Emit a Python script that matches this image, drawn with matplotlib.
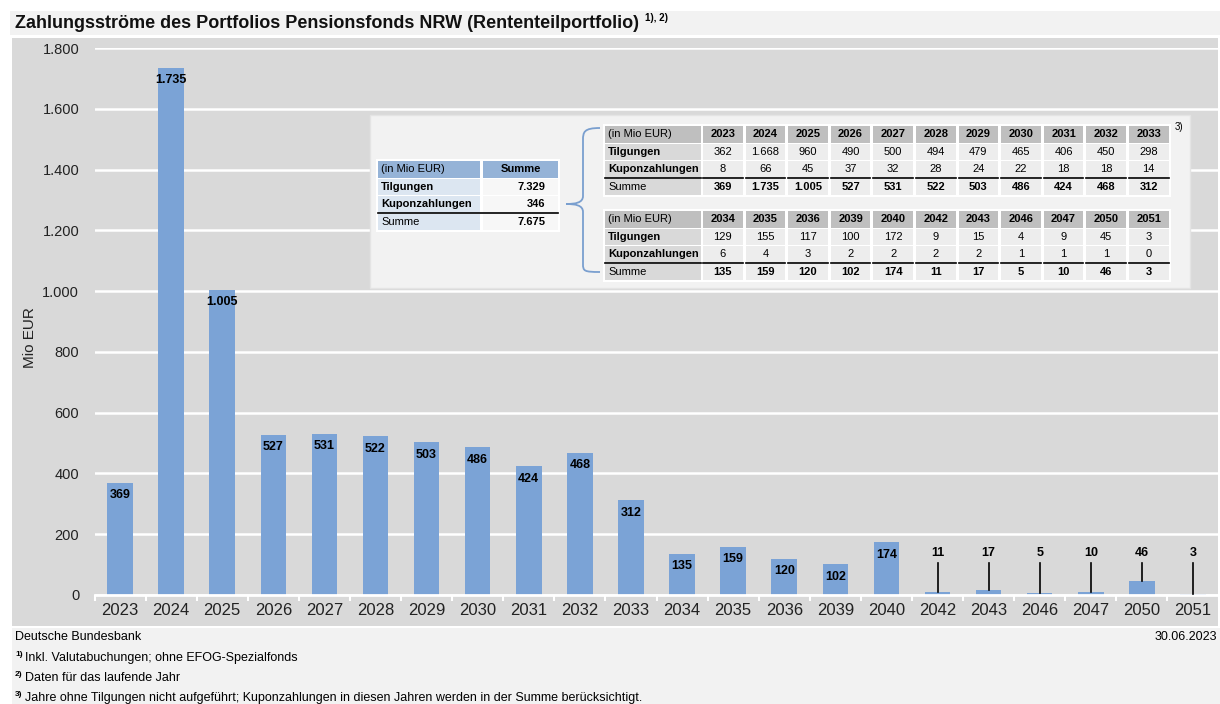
import matplotlib.pyplot as plt
from matplotlib.patches import Rectangle
from matplotlib.path import Path
from matplotlib.patches import PathPatch

plt.rcParams['font.family'] = ['Liberation Sans', 'DejaVu Sans']

# Daten (in Mio EUR)
years = ['2023', '2024', '2025', '2026', '2027', '2028', '2029', '2030', '2031', '2032', '2033',
         '2034', '2035', '2036', '2039', '2040', '2042', '2043', '2046', '2047', '2050', '2051']
tilgungen = [362, 1668, 960, 490, 500, 494, 479, 465, 406, 450, 298,
             129, 155, 117, 100, 172, 9, 15, 4, 9, 45, 3]
kupon = [8, 66, 45, 37, 32, 28, 24, 22, 18, 18, 14,
         6, 4, 3, 2, 2, 2, 2, 1, 1, 1, 0]
summe = [369, 1735, 1005, 527, 531, 522, 503, 486, 424, 468, 312,
         135, 159, 120, 102, 174, 11, 17, 5, 10, 46, 3]
total_tilgungen = 7329
total_kupon = 346
total_summe = 7675
yticks = [0, 200, 400, 600, 800, 1000, 1200, 1400, 1600, 1800]

BAR = '#7ba3d6'
GRAY = '#d9d9d9'
LIGHT = '#f2f2f2'


def de(v):
    return f"{v:,}".replace(",", ".")


W, H = 1220, 704
fig = plt.figure(figsize=(W / 100, H / 100), dpi=100)
fig.patch.set_facecolor('white')

# Hintergrund (Pixelkoordinaten)
bg = fig.add_axes([0, 0, 1, 1])
bg.set_xlim(0, W)
bg.set_ylim(H, 0)
bg.axis('off')
bg.set_zorder(0)
bg.add_patch(Rectangle((10, 11), 1210, 24, color=LIGHT, lw=0))
bg.add_patch(Rectangle((12, 38), 1206, 588, color=GRAY, lw=0))
bg.add_patch(Rectangle((12, 628), 1208, 76, color=LIGHT, lw=0))

# Hauptdiagramm
ax = fig.add_axes([94.5 / W, (H - 595) / H, 1124 / W, 547 / H])
ax.set_zorder(1)
ax.set_facecolor('none')
x = list(range(len(years)))
ax.bar(x, summe, width=0.5, color=BAR, zorder=2)
ax.set_xlim(-0.5, len(years) - 0.5)
ax.set_ylim(0, 1800)
ax.set_yticks(yticks)
ax.set_yticklabels([de(v) for v in yticks], fontsize=10.5, color='#222222')
ax.set_xticks(x)
ax.set_xticklabels(years, fontsize=12, color='#222222')
ax.set_xticks([i - 0.5 for i in range(len(years) + 1)], minor=True)
ax.tick_params(axis='y', length=0, pad=11)
ax.tick_params(axis='x', which='major', length=0, pad=6)
ax.tick_params(axis='x', which='minor', length=4, width=1.5, color='white')
ax.yaxis.grid(True, color='white', lw=1.8, zorder=1)
ax.set_axisbelow(True)
for s in ['top', 'right', 'left']:
    ax.spines[s].set_visible(False)
ax.spines['bottom'].set_color('white')
ax.spines['bottom'].set_linewidth(2)
ax.set_ylabel('Mio EUR', fontsize=11, color='#222222')
ax.yaxis.set_label_coords((37 - 94.5) / 1124, 0.47)

LABEL_Y = 138
for i, v in enumerate(summe):
    if v >= 100:
        ax.annotate(de(v), xy=(i, v), xytext=(0, -9), textcoords='offset points',
                    ha='center', va='center', fontsize=9, fontweight='bold', zorder=3)
    else:
        ax.text(i, LABEL_Y, de(v), ha='center', va='center', fontsize=9,
                fontweight='bold', zorder=3)
        ax.plot([i, i], [v, 105], color='black', lw=1.2, zorder=3)

# Overlay fuer Texte und Tabellen
ov = fig.add_axes([0, 0, 1, 1])
ov.set_xlim(0, W)
ov.set_ylim(H, 0)
ov.axis('off')
ov.set_zorder(3)
ov.patch.set_alpha(0)

title = ov.text(15, 23, 'Zahlungsströme des Portfolios Pensionsfonds NRW (Rententeilportfolio)',
                fontsize=13, fontweight='bold', va='center', ha='left', color='#111111')
ov.annotate('1), 2)', xy=(1, 1), xycoords=title, xytext=(4, 1), textcoords='offset points',
            ha='left', va='top', fontsize=7, fontweight='bold')

# Fusszeile
ov.text(15, 637, 'Deutsche Bundesbank', fontsize=9, va='center')
ov.text(1217, 637, '30.06.2023', fontsize=9, va='center', ha='right')
notes = ['Inkl. Valutabuchungen; ohne EFOG-Spezialfonds',
         'Daten für das laufende Jahr',
         'Jahre ohne Tilgungen nicht aufgeführt; Kuponzahlungen in diesen Jahren werden in der Summe berücksichtigt.']
for k, t in enumerate(notes):
    yy = 658 + 20 * k
    ov.text(15, yy - 4, f'{k + 1})', fontsize=6, va='center', fontweight='bold')
    ov.text(25, yy, t, fontsize=9, va='center')

# Inset-Kasten
ov.add_patch(Rectangle((370, 115), 820, 173, facecolor=LIGHT, edgecolor='#e4e4e4', lw=1))
ov.text(1175, 127, '3)', fontsize=7, va='center')

RH = 17.6
CH = 16.5
FS = 8


def cell(x0, y0, w, color):
    ov.add_patch(Rectangle((x0, y0), w, CH, facecolor=color, lw=0))


# linke Summentabelle
lx, lw_, vx, vw, ty = 378, 102, 483, 75, 161
ov.add_patch(Rectangle((lx - 2, ty - 2), vx + vw - lx + 4, 4 * RH + 3, facecolor='white', lw=0))
left_rows = [('(in Mio EUR)', 'Summe', 'normal', 'bold'),
             ('Tilgungen', de(total_tilgungen), 'bold', 'bold'),
             ('Kuponzahlungen', de(total_kupon), 'bold', 'bold'),
             ('Summe', de(total_summe), 'normal', 'bold')]
for r, (lab, val, lwt, vwt) in enumerate(left_rows):
    y0 = ty + r * RH
    cell(lx, y0, lw_, '#95b3d7' if r == 0 else '#dce6f1')
    cell(vx, y0, vw, '#95b3d7' if r == 0 else '#f7f7f7')
    ov.text(lx + 3, y0 + CH / 2, lab, fontsize=FS, fontweight=lwt, va='center')
    if r == 0:
        ov.text(vx + vw / 2, y0 + CH / 2, val, fontsize=FS, fontweight=vwt, va='center', ha='center')
    else:
        ov.text(vx + vw - 13, y0 + CH / 2, val, fontsize=FS, fontweight=vwt, va='center', ha='right')
ov.plot([lx, vx + vw], [ty + 3 * RH - 0.8] * 2, color='black', lw=1.2)


def year_table(ty, idx):
    x0, lw0, cx0, pitch, cw = 605, 96, 703, 42.6, 39.5
    ov.add_patch(Rectangle((x0 - 2, ty - 2), cx0 + pitch * (len(idx) - 1) + cw - x0 + 4,
                           4 * RH + 3, facecolor='white', lw=0))
    labels = [('(in Mio EUR)', 'normal'), ('Tilgungen', 'bold'),
              ('Kuponzahlungen', 'bold'), ('Summe', 'normal')]
    for r, (lab, wt) in enumerate(labels):
        y0 = ty + r * RH
        cell(x0, y0, lw0, '#bfbfbf' if r == 0 else GRAY)
        ov.text(x0 + 3, y0 + CH / 2, lab, fontsize=FS, fontweight=wt, va='center')
    for c, i in enumerate(idx):
        cx = cx0 + c * pitch
        vals = [(years[i], 'bold'), (de(tilgungen[i]), 'normal'),
                (de(kupon[i]), 'normal'), (de(summe[i]), 'bold')]
        for r, (t, wt) in enumerate(vals):
            y0 = ty + r * RH
            cell(cx, y0, cw, '#bfbfbf' if r == 0 else '#ededed')
            ov.text(cx + cw / 2, y0 + CH / 2, t, fontsize=FS, fontweight=wt,
                    va='center', ha='center')
        ov.plot([cx, cx + cw], [ty + 3 * RH - 0.8] * 2, color='black', lw=1.2)
    ov.plot([x0, x0 + lw0], [ty + 3 * RH - 0.8] * 2, color='black', lw=1.2)


year_table(126, range(0, 11))
year_table(211, range(11, 22))

# geschweifte Klammer
verts = [(600, 128), (584, 128), (583, 132), (583, 140),
         (583, 196),
         (583, 203), (575, 204), (566, 204),
         (575, 204), (583, 205), (583, 212),
         (583, 264),
         (583, 271), (584, 272), (600, 272)]
codes = [Path.MOVETO, Path.CURVE4, Path.CURVE4, Path.CURVE4,
         Path.LINETO,
         Path.CURVE4, Path.CURVE4, Path.CURVE4,
         Path.CURVE4, Path.CURVE4, Path.CURVE4,
         Path.LINETO,
         Path.CURVE4, Path.CURVE4, Path.CURVE4]
ov.add_patch(PathPatch(Path(verts, codes), facecolor='none', edgecolor='#7a9fcf', lw=1.3))

fig.savefig('out.png', dpi=100)
